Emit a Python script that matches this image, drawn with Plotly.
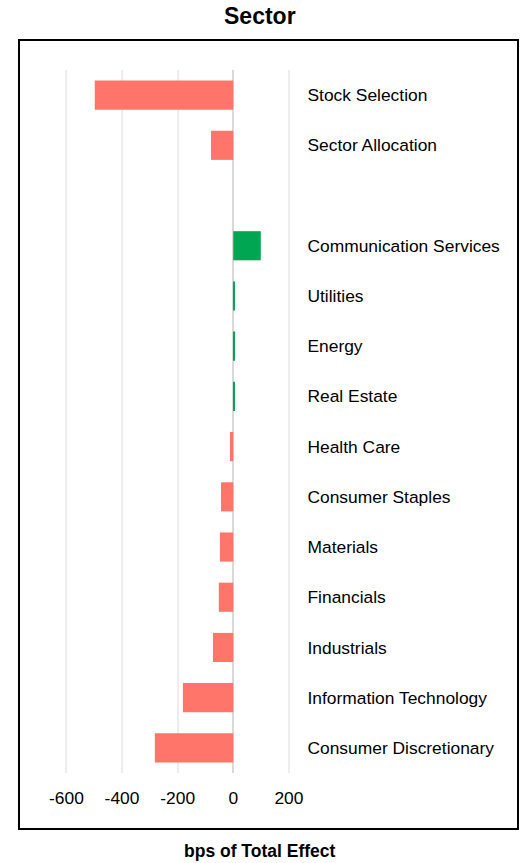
import plotly.graph_objects as go

categories = ["Stock Selection", "Sector Allocation", " ", "Communication Services", "Utilities",
              "Energy", "Real Estate", "Health Care", "Consumer Staples", "Materials",
              "Financials", "Industrials", "Information Technology", "Consumer Discretionary"]
values = [-498, -80, None, 99, 4, 3, 3, -12, -44, -48, -52, -73, -181, -282]
tick_vals = [-600, -400, -200, 0, 200]
tick_text = ["-600", "-400", "-200", "0", "200"]

RED = "#FF7569"
GREEN = "#00A651"
colors = [GREEN if (v is not None and v > 0) else RED for v in values]

W, H = 520, 863
L, R, T, B = 40, 220, 70, 90
pw, ph = W - L - R, H - T - B

def px_x(x):
    return (x - L) / pw

def px_y(y):
    return (H - B - y) / ph

fig = go.Figure(go.Bar(
    x=values, y=categories, orientation="h",
    marker=dict(color=colors, line=dict(width=0)),
    width=0.58,
))

lab = "Liberation Sans, Arial"
fig.update_layout(
    width=W, height=H,
    margin=dict(l=L, r=R, t=T, b=B, autoexpand=False),
    plot_bgcolor="white", paper_bgcolor="white",
    showlegend=False,
    font=dict(family=lab, size=17.4, color="#000000"),
    xaxis=dict(
        range=[-695, 240], tickvals=tick_vals, ticktext=tick_text,
        showgrid=True, gridcolor="#EDEDED", gridwidth=2,
        zeroline=True, zerolinecolor="#D9D9D9", zerolinewidth=2,
        showline=False, ticks="outside", ticklen=9, tickcolor="rgba(0,0,0,0)",
        tickfont=dict(family=lab, size=17.4), automargin=False,
        fixedrange=True,
    ),
    yaxis=dict(
        categoryorder="array", categoryarray=categories, type="category",
        range=[13.5, -0.5], side="right",
        showgrid=False, zeroline=False, showline=False,
        ticks="outside", ticklen=3, tickcolor="rgba(0,0,0,0)",
        tickfont=dict(family=lab, size=17.4), automargin=False,
    ),
    shapes=[dict(type="rect", xref="paper", yref="paper",
                 x0=px_x(19), x1=px_x(518), y0=px_y(829), y1=px_y(40),
                 line=dict(color="black", width=2), fillcolor="rgba(0,0,0,0)")],
    annotations=[
        dict(text="<b>Sector</b>", xref="paper", yref="paper", x=px_x(260), y=px_y(16),
             showarrow=False, xanchor="center", yanchor="middle",
             font=dict(family=lab, size=23)),
        dict(text="<b>bps of Total Effect</b>", xref="paper", yref="paper", x=px_x(260), y=px_y(851),
             showarrow=False, xanchor="center", yanchor="middle",
             font=dict(family=lab, size=17.5)),
    ],
)

fig.write_html("out.html")
